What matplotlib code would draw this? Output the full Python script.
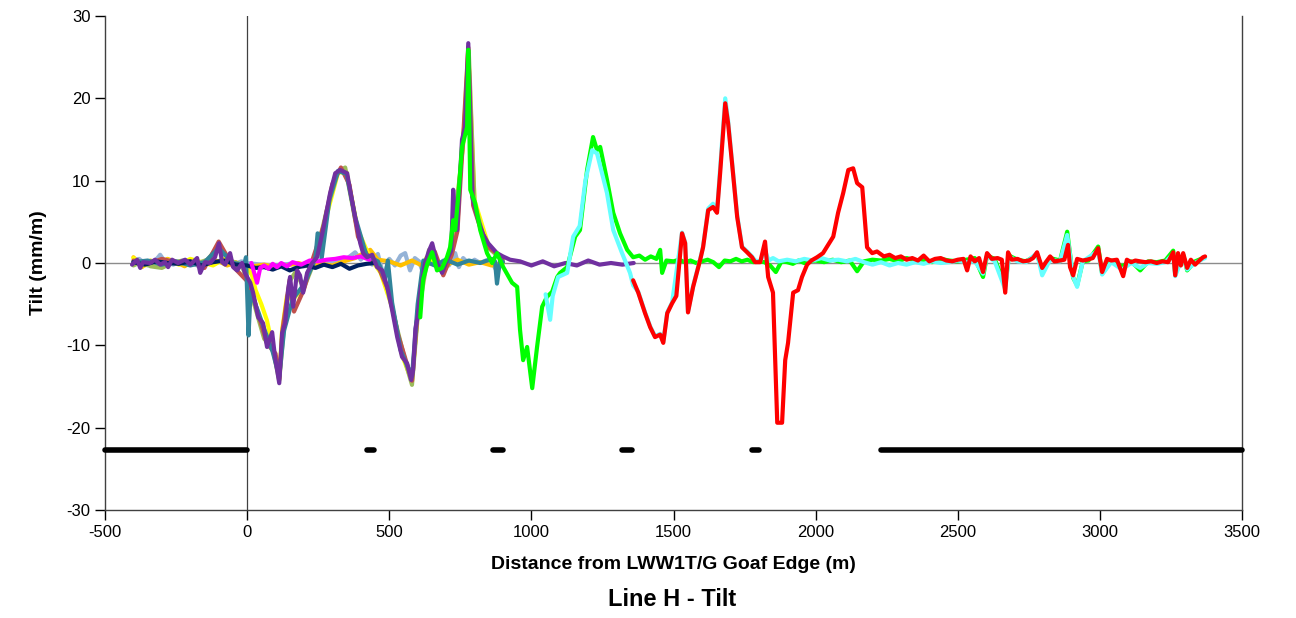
import matplotlib
matplotlib.use("Agg")
import matplotlib.pyplot as plt

plt.rcParams['font.family'] = ['Liberation Sans', 'DejaVu Sans']
plt.rcParams['axes.unicode_minus'] = False

# ---------------- data ----------------
purple_x = [-405, -387, -376, -366, -341, -324, -306, -289, -278, -264, -243, -218, -200, -176, -165,
            -148, -130, -113, -99, -88, -77, -60, -49, -35, -18, -8, 0, 11, 21, 39, 56, 70, 88, 98,
            113, 123, 134, 144, 151, 162, 176, 186, 197, 211, 229, 246, 267, 292, 310, 327, 352, 362,
            380, 398, 408, 422, 440, 457, 475, 493, 510, 528, 545, 563, 577, 584, 592, 600, 610, 626,
            640, 651, 668, 686, 703, 718, 725, 732, 739, 756, 767, 778, 792, 813, 830, 848, 879, 900,
            925, 960, 1000, 1040, 1080, 1120, 1160, 1200, 1240, 1280, 1320, 1360]
purple_y = [-0.2, 0.4, -0.6, 0.1, 0.0, 0.4, -0.2, 0.1, -0.5, 0.4, 0.0, 0.4, -0.2, 0.6, -1.2,
            0.1, 0.0, 0.7, 2.4, 0.1, -0.2, 1.2, -0.5, -0.9, 0.0, -1.2, -1.7, -2.4, -3.6, -6.6, -7.3,
            -10.2, -8.4, -11.4, -14.6, -8.5, -7.3, -3.3, -1.7, -5.3, -0.9, -1.5, -3.6, -1.2, 0.0, 0.7,
            4.0, 8.5, 10.9, 11.3, 10.9, 8.9, 5.6, 2.4, 1.2, 0.7, 1.0, -0.5, -0.9, -2.9, -5.7, -9.0,
            -11.4, -12.2, -14.2, -13.0, -8.0, -6.5, -3.3, 0.0, 1.5, 2.4, 0.0, -1.2, 0.4, 1.5, 8.9, 5.0,
            4.0, 15.0, 16.5, 26.7, 8.0, 5.2, 3.5, 2.4, 1.2, 0.8, 0.4, 0.2, -0.3, 0.2, -0.4, 0.0, -0.3,
            0.3, -0.2, 0.0, -0.2, 0.0]

brown_x = [-400, -350, -300, -250, -200, -150, -100, -50, 0, 20, 40, 70, 100, 113, 125, 150, 165, 200,
           230, 270, 300, 330, 360, 390, 420, 460, 500, 530, 560, 580, 600, 630, 660, 690, 720, 740,
           760, 778, 795, 820, 850, 900]
brown_y = [0.3, -0.1, 0.5, 0.1, 0.2, -0.6, 2.6, -0.4, -2.2, -3.9, -6.3, -9.8, -11.0, -14.1, -8.0,
           -2.0, -5.9, -3.2, 0.4, 4.6, 9.6, 11.6, 9.5, 3.2, 1.1, -0.3, -3.6, -8.6, -12.0, -14.3,
           -6.0, 0.4, 1.4, -1.5, 1.0, 3.9, 15.3, 26.2, 7.0, 4.3, 1.9, 0.6]

olive_x = [-400, -370, -340, -300, -260, -220, -180, -140, -100, -60, -20, 0, 30, 60, 90, 113, 130,
           150, 170, 200, 240, 280, 320, 345, 380, 410, 450, 490, 530, 560, 580, 600, 640, 680, 720,
           760, 780, 800, 840, 900]
olive_y = [-0.3, 0.2, -0.4, -0.6, 0.1, 0.3, -0.1, 0.4, 2.0, 0.3, -0.2, -2.0, -5.6, -9.2, -10.4, -14.3,
           -7.6, -2.2, -1.1, -3.0, 0.5, 6.4, 11.1, 11.6, 5.3, 1.2, 0.4, -2.6, -8.3, -12.4, -14.8,
           -6.5, 1.6, -0.8, 1.3, 14.6, 25.5, 7.3, 2.1, 0.3]

yellow_x = [-400, -360, -320, -280, -240, -200, -160, -120, -80, -40, -10, 0, 17, 30, 50, 70, 85,
            100, 113, 123, 140, 160, 200, 240, 280, 320, 350, 390, 430, 470, 510, 545, 580, 600,
            630, 680, 720, 760, 778, 800, 850, 900]
yellow_y = [0.6, -0.3, 0.2, 0.4, -0.2, 0.5, 0.1, -0.3, 0.5, -0.1, -0.4, -0.5, -1.5, -3.3, -5.0,
            -7.0, -9.5, -11.5, -14.0, -8.2, -4.0, -4.5, -2.8, 0.9, 5.8, 11.0, 11.0, 4.0, 0.8, -1.2,
            -5.4, -11.2, -14.4, -6.0, 0.6, -0.2, 1.0, 14.5, 26.0, 7.6, 2.0, 0.5]

orange_x = [-400, -370, -340, -310, -280, -250, -220, -190, -160, -130, -100, -70, -40, -10, 20, 60,
            100, 140, 180, 220, 260, 300, 340, 380, 410, 433, 460, 500, 540, 580, 620, 660, 700,
            740, 780, 820, 860, 900]
orange_y = [0.7, -0.5, 0.3, -0.2, 0.5, 0.1, -0.4, 0.3, 0.0, 0.4, 0.2, -0.3, 0.1, -0.6, -0.4, -0.2,
            -0.5, -0.3, 0.0, -0.4, -0.1, -0.3, 0.2, 0.6, 1.2, 1.6, 0.4, 0.2, -0.3, 0.3, -0.4, 0.2,
            -0.3, 0.4, -0.2, 0.1, -0.3, 0.0]

steel_x = [-400, -380, -350, -320, -306, -290, -260, -230, -200, -170, -140, -110, -80, -50, -20,
           0, 50, 100, 150, 200, 250, 300, 350, 380, 400, 420, 440, 460, 480, 500, 520, 540, 556,
           573, 590, 605, 619, 636, 654, 670, 690, 710, 732, 745, 760, 780, 800, 820, 840, 860,
           879, 900]
steel_y = [0.2, 0.5, -0.3, 0.4, 1.0, 0.2, -0.2, 0.3, 0.1, -0.4, 0.3, 0.0, 0.6, -0.2, 0.2,
           0.0, -0.2, -0.3, -0.1, -0.4, -0.2, 0.1, 0.5, 1.3, 0.4, 1.4, -0.2, 1.1, -1.6, 0.5, -0.3,
           0.9, 1.2, -0.9, 0.6, 0.2, -1.2, 0.4, 1.2, -0.5, 0.3, -0.3, 1.2, -0.5, 0.6, -0.1, 0.4,
           0.0, 0.3, 0.1, -1.0, 0.2]

teal_x = [-400, -350, -300, -250, -200, -150, -100, -50, -10, -4, 5, 12, 20, 40, 60, 90, 113, 130,
          160, 200, 240, 248, 255, 262, 290, 320, 350, 380, 420, 460, 485, 495, 510, 540, 580,
          600, 620, 660, 700, 740, 780, 820, 860, 872, 879, 890, 900]
teal_y = [0.1, 0.3, -0.2, 0.2, -0.3, 0.1, 1.8, 0.0, -0.2, 0.7, -8.8, -3.5, -4.2, -6.0, -8.0, -10.8,
          -13.8, -8.2, -4.4, -2.6, 0.5, 3.6, 3.4, 0.5, 7.8, 11.2, 10.8, 5.6, 0.9, 0.2, -1.9, 0.3,
          -4.8, -10.6, -13.8, -5.0, 0.3, -0.3, 0.4, -0.2, 0.3, 0.0, 0.5, 0.2, -2.5, 0.4, 0.1]

navy_x = [-400, -360, -320, -280, -240, -200, -160, -120, -80, -40, 0, 30, 60, 90, 120, 150, 180,
          210, 240, 270, 300, 330, 360, 390, 420, 450]
navy_y = [0.1, -0.2, 0.2, 0.0, -0.1, 0.2, -0.3, 0.1, 0.3, -0.2, -0.3, -0.6, -0.5, -0.8, -0.4,
          -0.9, -0.5, -0.3, -0.6, -0.2, -0.5, -0.1, -0.7, -0.3, -0.1, 0.0]

magenta_x = [15, 25, 35, 46, 60, 75, 90, 105, 120, 140, 160, 190, 220, 250, 280, 310, 340, 370,
             400, 430]
magenta_y = [0.0, -1.2, -2.4, -0.6, -0.3, -0.7, -0.1, -0.5, 0.0, -0.4, 0.1, -0.2, 0.3, 0.2, 0.4,
             0.5, 0.7, 0.6, 0.8, 0.4]

green_x = [609, 619, 635, 651, 668, 686, 703, 714, 725, 732, 745, 756, 774, 778, 785, 802, 820,
           844, 862, 879, 901, 932, 950, 960, 971, 985, 1003, 1020, 1038, 1055, 1073, 1091, 1101,
           1126, 1154, 1171, 1196, 1217, 1231, 1242, 1266, 1288, 1312, 1337, 1358, 1380, 1400,
           1420, 1440, 1453, 1460, 1475, 1500, 1520, 1540, 1560, 1580, 1600, 1620, 1640, 1660,
           1680, 1700, 1720, 1740, 1760, 1780, 1800, 1820, 1840, 1860, 1880, 1900, 1920, 1940,
           1960, 1980, 2000, 2030, 2060, 2090, 2120, 2146, 2170, 2200, 2230, 2260, 2290, 2320,
           2350, 2380, 2410, 2440, 2470, 2500, 2530, 2560, 2589, 2603, 2630, 2667, 2680, 2710,
           2740, 2779, 2797, 2825, 2860, 2885, 2906, 2920, 2940, 2960, 2994, 3008, 3040, 3078,
           3110, 3142, 3170, 3200, 3230, 3258, 3265, 3293, 3307, 3335, 3363, 3370]
green_y = [-6.6, -2.0, 0.0, 1.3, -0.9, -0.6, 0.7, 1.9, 5.2, 4.0, 9.0, 14.1, 16.5, 25.9, 8.9, 7.3,
           4.0, 1.2, 0.0, 1.2, -0.5, -2.4, -2.9, -8.1, -11.8, -10.2, -15.2, -10.2, -5.3, -4.1,
           -3.5, -1.7, -1.2, -0.5, 3.2, 4.0, 11.3, 15.3, 13.7, 14.1, 10.1, 6.1, 3.6, 1.6, 0.7,
           0.9, 0.4, 0.8, 0.5, 1.6, -1.2, 0.3, 0.2, 0.4, 0.1, 0.3, 0.0, 0.2, 0.4, 0.1, -0.5, 0.3,
           0.2, 0.5, 0.2, 0.4, 0.1, 0.2, 0.1, -0.3, -1.1, 0.2, 0.1, -0.1, 0.3, 0.0, 0.2, 0.3, 0.1,
           0.4, 0.1, 0.3, -1.0, 0.2, 0.4, 0.3, 0.5, 0.2, 0.6, 0.3, 0.4, 0.1, 0.5, 0.3, 0.2, 0.4,
           0.6, -1.7, 0.9, 0.5, -2.8, 0.9, 0.4, 0.2, 1.0, -0.8, 0.6, 0.3, 3.8, -1.8, -2.7, 0.2,
           0.3, 2.0, -1.3, 0.3, -0.4, 0.2, -0.9, 0.2, 0.1, 0.3, 1.5, -1.3, 1.0, -0.9, 0.2, 0.6, 0.7]

cyan_x = [1050, 1066, 1075, 1094, 1126, 1147, 1170, 1190, 1214, 1231, 1266, 1288, 1319, 1347, 1358,
          1376, 1400, 1418, 1435, 1453, 1464, 1478, 1495, 1530, 1541, 1551, 1569, 1594, 1604, 1622,
          1639, 1653, 1664, 1682, 1692, 1706, 1724, 1741, 1759, 1776, 1787, 1805, 1822, 1835,
          1850, 1870, 1900, 1930, 1960, 1990, 2020, 2050, 2080, 2110, 2140, 2170, 2200, 2230,
          2260, 2290, 2320, 2350, 2380, 2410, 2440, 2470, 2500, 2530, 2560, 2589, 2603, 2630,
          2667, 2680, 2710, 2740, 2779, 2797, 2825, 2860, 2885, 2906, 2920, 2940, 2994, 3008,
          3040, 3078, 3110, 3142, 3170, 3200, 3230, 3258, 3265, 3293, 3307, 3335, 3363, 3370]
cyan_y = [-3.8, -6.9, -4.0, -1.7, -1.2, 3.2, 4.5, 10.0, 13.7, 13.3, 8.5, 4.0, 1.2, -1.2, -2.7,
          -3.5, -6.0, -7.7, -8.9, -8.6, -9.6, -6.0, -4.8, 3.7, 2.5, -5.9, -2.8, 0.5, 2.0, 6.6,
          7.2, 6.2, 11.5, 20.0, 17.3, 12.3, 5.8, 2.0, 1.4, 0.8, 0.3, 0.2, 1.5, 0.3, 0.6, 0.2,
          0.4, 0.2, 0.5, 0.3, 0.6, 0.3, 0.4, 0.2, 0.5, 0.1, -0.2, 0.1, -0.3, 0.0, -0.2, 0.1,
          -0.1, 0.2, 0.0, 0.1, 0.3, 0.1, 0.2, -1.3, 0.9, 0.2, -3.2, 0.8, 0.2, 0.1, 1.2, -1.5,
          0.4, 0.2, 3.4, -1.7, -2.9, 0.2, 1.5, -1.4, 0.1, -0.8, 0.0, -0.6, 0.0, -0.1, 0.1, 1.1,
          -1.6, 0.9, -0.8, 0.0, 0.5, 0.6]

red_x = [1358, 1376, 1400, 1418, 1435, 1453, 1464, 1478, 1495, 1510, 1530, 1541, 1551, 1569, 1594,
         1604, 1622, 1639, 1653, 1664, 1682, 1692, 1706, 1724, 1741, 1759, 1776, 1787, 1805, 1822,
         1833, 1850, 1865, 1882, 1893, 1903, 1921, 1938, 1952, 1970, 1985, 2005, 2026, 2044, 2062,
         2079, 2097, 2115, 2132, 2146, 2164, 2181, 2199, 2216, 2240, 2260, 2280, 2300, 2320, 2340,
         2360, 2380, 2400, 2420, 2440, 2460, 2480, 2500, 2520, 2533, 2545, 2560, 2575, 2589, 2603,
         2620, 2640, 2655, 2667, 2677, 2690, 2710, 2730, 2750, 2765, 2779, 2797, 2810, 2825, 2840,
         2860, 2875, 2888, 2895, 2906, 2920, 2940, 2955, 2975, 2994, 3008, 3025, 3040, 3060, 3082,
         3095, 3110, 3125, 3142, 3160, 3180, 3200, 3220, 3240, 3258, 3265, 3275, 3285, 3293, 3307,
         3320, 3335, 3350, 3363, 3370]
red_y = [-2.1, -3.6, -6.1, -7.8, -9.0, -8.7, -9.7, -6.1, -4.9, -4.0, 3.6, 2.4, -6.0, -2.9, 0.4,
         1.9, 6.4, 6.8, 6.1, 10.9, 19.4, 17.0, 12.1, 5.6, 1.9, 1.3, 0.7, 0.1, 0.1, 2.6, -1.7, -3.6,
         -19.4, -19.4, -11.8, -9.7, -3.6, -3.3, -1.7, -0.2, 0.3, 0.7, 1.2, 2.2, 3.2, 6.1, 8.5, 11.3,
         11.5, 9.7, 9.2, 1.9, 1.2, 1.4, 0.8, 1.0, 0.6, 0.8, 0.4, 0.6, 0.3, 0.9, 0.2, 0.5, 0.6, 0.3,
         0.2, 0.4, 0.5, -0.9, 0.8, 0.2, 0.6, -1.1, 1.2, 0.5, 0.6, 0.4, -3.6, 1.3, 0.4, 0.5, 0.2,
         0.3, 0.6, 1.3, -0.6, 0.1, 0.8, 0.2, 0.3, 0.4, 2.2, -0.5, -1.5, 0.5, 0.3, 0.4, 0.6, 1.8,
         -1.1, 0.5, 0.3, 0.4, -1.6, 0.4, 0.1, 0.3, 0.2, 0.1, 0.2, 0.0, 0.2, 0.1, 1.3, -1.5, 1.2,
         -0.3, 1.2, -0.6, 0.4, -0.2, 0.3, 0.7, 0.8]

# panel / pillar indicator bars (start, end) in metres at constant tilt level
bar_starts = [-500, 420, 865, 1320, 1775, 2230]
bar_ends = [0, 445, 900, 1355, 1800, 3500]
bar_level = -22.7

x_ticks = [-500, 0, 500, 1000, 1500, 2000, 2500, 3000, 3500]
y_ticks = [-30, -20, -10, 0, 10, 20, 30]

# ---------------- plot ----------------
fig = plt.figure(figsize=(12.96, 6.18), dpi=100)
ax = fig.add_axes([105 / 1296, 1 - 510 / 618, (1242 - 105) / 1296, (510 - 16) / 618])

ax.axhline(0, color='#8c8c8c', lw=1.0, zorder=1)
ax.axvline(0, color='#404040', lw=0.9, zorder=1)

lw = 3.0
series = [
    (steel_x, steel_y, '#95B3D7'),
    (orange_x, orange_y, '#FFC000'),
    (yellow_x, yellow_y, '#FFFF00'),
    (olive_x, olive_y, '#9BBB59'),
    (brown_x, brown_y, '#C0504D'),
    (teal_x, teal_y, '#31849B'),
    (navy_x, navy_y, '#002060'),
    (magenta_x, magenta_y, '#FF00FF'),
    (purple_x, purple_y, '#7030A0'),
    (green_x, green_y, '#00FF00'),
    (cyan_x, cyan_y, '#66FFFF'),
    (red_x, red_y, '#FF0000'),
]
for i, (xs, ys, c) in enumerate(series):
    ax.plot(xs, ys, color=c, lw=lw, solid_joinstyle='round', solid_capstyle='round', zorder=2 + i)

for s, e in zip(bar_starts, bar_ends):
    ax.plot([s, e], [bar_level, bar_level], color='black', lw=4.0, solid_capstyle='round',
            zorder=20, clip_on=False)

ax.set_xlim(-500, 3500)
ax.set_ylim(-30, 30)
ax.set_xticks(x_ticks)
ax.set_yticks(y_ticks)
ax.tick_params(direction='out', length=7, width=1, labelsize=12, colors='black')
for sp in ax.spines.values():
    sp.set_color('#404040')
    sp.set_linewidth(1.0)
ax.spines['top'].set_visible(False)

ax.set_xlabel('Distance from LWW1T/G Goaf Edge (m)', fontsize=14, fontweight='bold', labelpad=12)
ax.set_ylabel('Tilt (mm/m)', fontsize=14, fontweight='bold', labelpad=14)
fig.text(672 / 1296, 1 - 599 / 618, 'Line H - Tilt', ha='center', va='center', fontsize=17,
         fontweight='bold')

fig.savefig('out.png', dpi=100)
